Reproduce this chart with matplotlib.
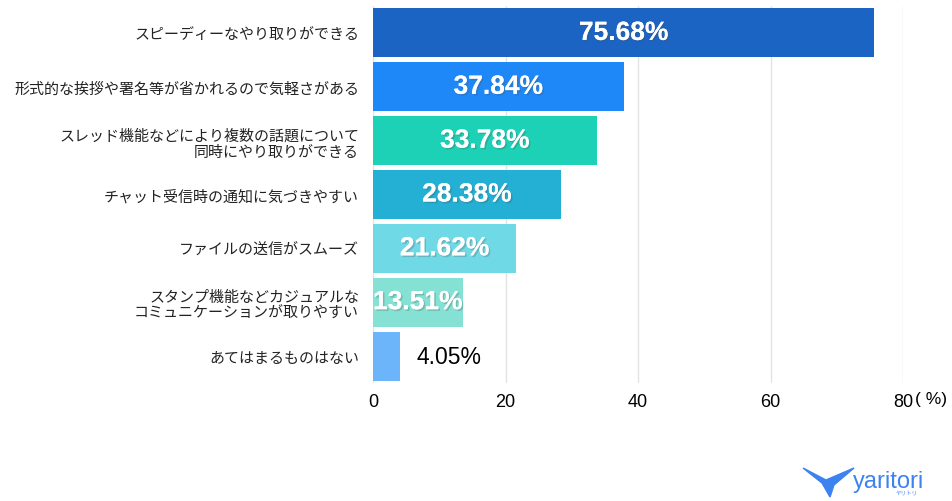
import numpy as np
import matplotlib
matplotlib.use("Agg")
import matplotlib.pyplot as plt
import matplotlib.patheffects as pe
from matplotlib.patches import Polygon

plt.rcParams['font.family'] = ['Noto Sans CJK JP', 'DejaVu Sans']

labels = [
    "スピーディーなやり取りができる",
    "形式的な挨拶や署名等が省かれるので気軽さがある",
    "スレッド機能などにより複数の話題について\n同時にやり取りができる",
    "チャット受信時の通知に気づきやすい",
    "ファイルの送信がスムーズ",
    "スタンプ機能などカジュアルな\nコミュニケーションが取りやすい",
    "あてはまるものはない",
]
values = [75.68, 37.84, 33.78, 28.38, 21.62, 13.51, 4.05]
colors = ["#1c64c4", "#1e88f8", "#1dd1b6", "#23b0d4", "#6fd9e6", "#84e1d3", "#6cb5fb"]
xticks = [0, 20, 40, 60, 80]

fig = plt.figure(figsize=(9.52, 5.02), dpi=100)
ax = fig.add_axes([373 / 952, 1 - 384 / 502, 530 / 952, 377 / 502])

y = np.arange(len(values))
ax.barh(y, values, height=0.91, color=colors, zorder=2)
ax.set_ylim(len(values) - 0.5, -0.5)
ax.set_xlim(0, 80)

ax.set_yticks(y)
ax.set_yticklabels(labels, fontsize=10.8, color="#222222", linespacing=1.2)
ax.tick_params(axis="y", length=0, pad=10)
ax.set_xticks(xticks)
ax.set_xticklabels([str(t) for t in xticks], fontsize=13, family="Liberation Sans")
ax.tick_params(axis="x", length=0, pad=7)
ax.grid(axis="x", color="#e3e3e3", linewidth=1, zorder=0)
for s in ax.spines.values():
    s.set_visible(False)

shadow = [pe.withSimplePatchShadow(offset=(1.2, -1.2), alpha=0.25), pe.Normal()]
for i, v in enumerate(values):
    txt = f"{v:.2f}%"
    if v > 10:
        ax.text(v / 2, i, txt, ha="center", va="center", color="white",
                fontsize=19, fontweight="bold", family="Liberation Sans",
                path_effects=shadow, zorder=3)
    else:
        ax.text(v + 2.5, i, txt, ha="left", va="center", color="black",
                fontsize=16.5, family="Liberation Sans", zorder=3)

fig.text(915 / 952, 1 - 400 / 502, "( %)", fontsize=12.5, va="center", ha="left",
         family="Liberation Sans")

# logo
pts = [(803, 469), (826, 481), (854, 469), (834, 486), (830, 498), (822, 484)]
logo = Polygon([[px / 952, 1 - py / 502] for px, py in pts],
               closed=True, transform=fig.transFigure, color="#3c82f0")
fig.patches.append(logo)
fig.text(853 / 952, 1 - 482 / 502, "yaritori", fontsize=17, color="#3c82f0",
         family="Liberation Sans", va="center", ha="left")
fig.text(907 / 952, 1 - 494 / 502, "ヤリトリ", fontsize=4, color="#3c82f0",
         va="center", ha="center")

fig.savefig("out.png", dpi=100, facecolor="white")
